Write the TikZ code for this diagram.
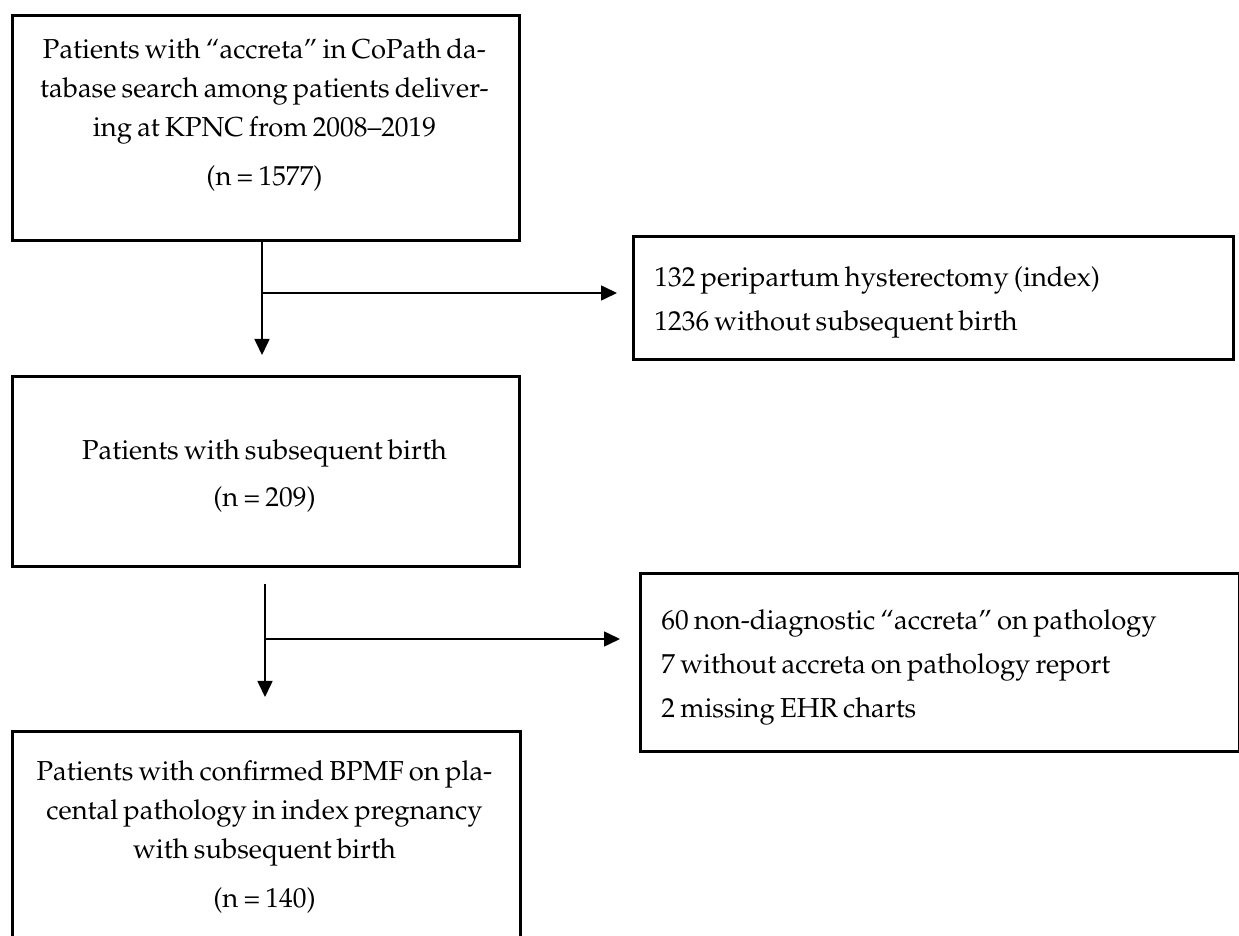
\documentclass[tikz,border=0pt]{standalone}
\IfFileExists{mathpazo.sty}{%
  \usepackage[T1]{fontenc}\usepackage{mathpazo}\newcommand\myfs{13.7}}{%
  \usepackage{fontspec}\setmainfont{Liberation Serif}\newcommand\myfs{14.5}}
\usetikzlibrary{arrows.meta}
\newcommand\tightsp{\spaceskip=0.19em plus 0.1em minus 0.05em\relax}
\newcommand\fsnarrow{\fontsize{\myfs}{19.5}\selectfont\tightsp}
\newcommand\fswide{\fontsize{\myfs}{22}\selectfont\tightsp}
\begin{document}
\begin{tikzpicture}[x=0.5pt,y=-0.5pt,
  box/.style={draw, line width=1.3pt, inner sep=0pt, anchor=north west},
  conn/.style={line width=0.8pt},
  arr/.style={conn, -{Triangle[length=8pt,width=7.5pt]}},
  txt/.style={inner sep=0pt, font=\fsnarrow},
  txtw/.style={inner sep=0pt, font=\fswide},
]
\useasboundingbox (0,0) rectangle (1239,936);
% boxes
\node[box, minimum width=253.5pt, minimum height=112.5pt] (box1) at (11,14) {};
\node[box, minimum width=300pt, minimum height=61.5pt] (box3) at (632,235) {};
\node[box, minimum width=253.5pt, minimum height=95pt] (box2) at (11,375) {};
\node[box, minimum width=299.5pt, minimum height=89pt] (box4) at (639,572) {};
\node[box, minimum width=254pt, minimum height=107.5pt] (box5) at (11,730) {};
% texts
\node[txt, align=center, anchor=north] (t1) at (264.5,31) {\strut Patients with ``accreta'' in CoPath da-\\ tabase search among patients deliver-\\ ing at KPNC from 2008--2019\\[5pt] (n = 1577)};
\node[txtw, align=left, anchor=north west] (t3) at (654,255) {\strut 132 peripartum hysterectomy (index)\\ 1236 without subsequent birth};
\node[txt, align=center, anchor=north] (t2) at (264.5,432) {\strut Patients with subsequent birth\\[4pt] (n = 209)};
\node[txtw, align=left, anchor=north west] (t4) at (661,598) {\strut 60 non-diagnostic ``accreta'' on pathology\\ 7 without accreta on pathology report\\ 2 missing EHR charts};
\node[txt, align=center, anchor=north] (t5) at (264.5,753) {\strut Patients with confirmed BPMF on pla-\\ cental pathology in index pregnancy\\ with subsequent birth\\[5pt] (n = 140)};
% connectors
\coordinate (j1) at (262,293);
\coordinate (j2) at (265,639);
\draw[arr, shorten >=10pt] (box1.south -| j1) -- (box2.north -| j1);
\draw[arr, shorten >=7.5pt] (j1) -- (box3.west |- j1);
\draw[arr, shorten <=8pt, shorten >=16.5pt] (box2.south -| j2) -- (box5.north -| j2);
\draw[arr, shorten >=9.5pt] (j2) -- (box4.west |- j2);
\end{tikzpicture}
\end{document}
